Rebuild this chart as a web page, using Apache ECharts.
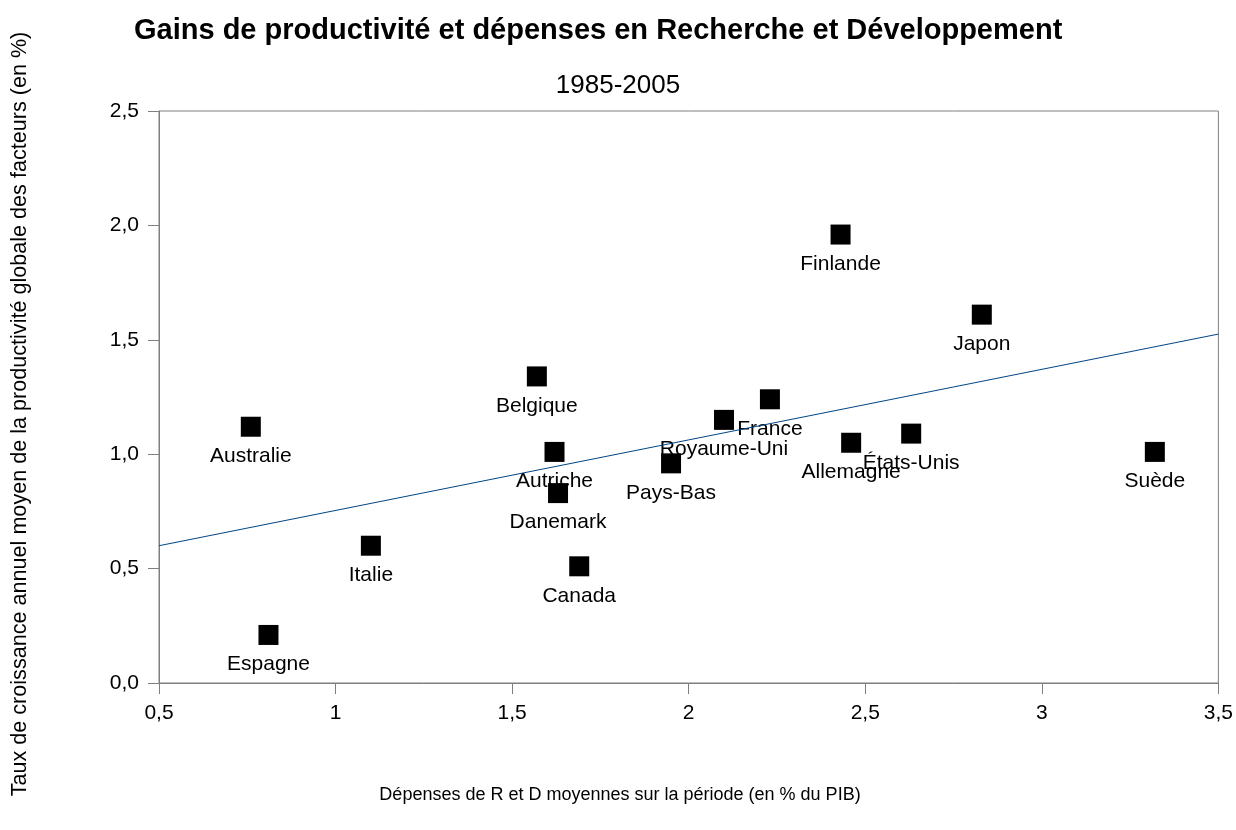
<!DOCTYPE html>
<html>
<head>
    <meta charset="utf-8">
    <title>Gains de productivité et R&D</title>
    <script src="https://cdn.jsdelivr.net/npm/echarts/dist/echarts.min.js"></script>
    <style>
        html, body { margin: 0; padding: 0; background: #fff; overflow: hidden; }
        #container { width: 1236px; height: 830px; }
    </style>
</head>
<body>
<div id="container"></div>

<script type="text/javascript">
    // pays et valeurs
    var pays = ['Australie', 'Espagne', 'Italie', 'Belgique', 'Autriche', 'Danemark', 'Canada', 'Pays-Bas',
        'Royaume-Uni', 'France', 'Finlande', 'Allemagne', 'États-Unis', 'Japon', 'Suède'];
    var depensesRD = [0.76, 0.81, 1.10, 1.57, 1.62, 1.63, 1.69, 1.95, 2.10, 2.23, 2.43, 2.46, 2.63, 2.83, 3.32];
    var croissancePGF = [1.12, 0.21, 0.60, 1.34, 1.01, 0.83, 0.51, 0.96, 1.15, 1.24, 1.96, 1.05, 1.09, 1.61, 1.01];

    // droite de tendance
    var tendanceX = [0.5, 3.5];
    var tendanceY = [0.60, 1.525];

    var xTicks = [0.5, 1, 1.5, 2, 2.5, 3, 3.5];
    var yTicks = [0, 0.5, 1, 1.5, 2, 2.5];

    var police = 'Liberation Sans, Arial, sans-serif';

    var points = [];
    for (var i = 0; i < pays.length; i++) {
        points.push([depensesRD[i], croissancePGF[i], pays[i]]);
    }
    var ligne = [];
    for (var j = 0; j < tendanceX.length; j++) {
        ligne.push([tendanceX[j], tendanceY[j]]);
    }

    var mychart = echarts.init(document.getElementById('container'));

    var options = {
        backgroundColor: '#fff',
        animation: false,
        title: [{
            text: 'Gains de productivité et dépenses en Recherche et Développement',
            left: 134,
            top: 16,
            padding: 0,
            textStyle: { fontFamily: police, fontSize: 29, fontWeight: 'bold', color: '#000' }
        }, {
            text: '1985-2005',
            left: 'center',
            top: 73,
            padding: 0,
            textStyle: { fontFamily: police, fontSize: 26, fontWeight: 'normal', color: '#000' }
        }],
        graphic: [{
            type: 'text',
            x: 20,
            y: 414,
            rotation: Math.PI / 2,
            style: {
                text: 'Taux de croissance annuel moyen de la productivité globale des facteurs (en %)',
                fontFamily: police,
                fontSize: 21.6,
                fill: '#000',
                textAlign: 'center',
                textVerticalAlign: 'middle'
            }
        }, {
            type: 'text',
            x: 620,
            y: 795,
            style: {
                text: 'Dépenses de R et D moyennes sur la période (en % du PIB)',
                fontFamily: police,
                fontSize: 18,
                fill: '#000',
                textAlign: 'center',
                textVerticalAlign: 'middle'
            }
        }],
        grid: {
            left: 159,
            top: 111,
            right: 14,
            bottom: 147,
            show: true,
            borderColor: '#7f7f7f',
            borderWidth: 1,
            containLabel: false
        },
        xAxis: {
            type: 'value',
            min: xTicks[0],
            max: xTicks[xTicks.length - 1],
            interval: 0.5,
            splitLine: { show: false },
            axisLine: { show: true, onZero: false, lineStyle: { color: '#7f7f7f', width: 1 } },
            axisTick: { show: true, inside: false, length: 11, lineStyle: { color: '#7f7f7f' } },
            axisLabel: {
                margin: 20,
                fontFamily: police,
                fontSize: 21,
                color: '#000',
                formatter: function (v) { return String(v).replace('.', ','); }
            }
        },
        yAxis: {
            type: 'value',
            min: yTicks[0],
            max: yTicks[yTicks.length - 1],
            interval: 0.5,
            splitLine: { show: false },
            axisLine: { show: true, onZero: false, lineStyle: { color: '#7f7f7f', width: 1 } },
            axisTick: { show: true, inside: false, length: 11, lineStyle: { color: '#7f7f7f' } },
            axisLabel: {
                margin: 20,
                fontFamily: police,
                fontSize: 21,
                color: '#000',
                formatter: function (v) { return v.toFixed(1).replace('.', ','); }
            }
        },
        series: [{
            // étiquettes seules, dessinées sous les carrés
            type: 'scatter',
            z: 2,
            silent: true,
            symbol: 'rect',
            symbolSize: 20,
            itemStyle: { color: 'rgba(0,0,0,0)', opacity: 1 },
            label: {
                show: true,
                position: 'bottom',
                distance: 9,
                fontFamily: police,
                fontSize: 21,
                color: '#000',
                opacity: 1,
                formatter: function (p) { return p.data[2]; }
            },
            data: points
        }, {
            type: 'line',
            z: 3,
            silent: true,
            symbol: 'none',
            lineStyle: { color: '#004586', width: 1 },
            data: ligne
        }, {
            type: 'scatter',
            z: 4,
            symbol: 'rect',
            symbolSize: 20,
            itemStyle: { color: '#000', opacity: 1 },
            data: points
        }]
    };

    mychart.setOption(options);
</script>
</body>
</html>
